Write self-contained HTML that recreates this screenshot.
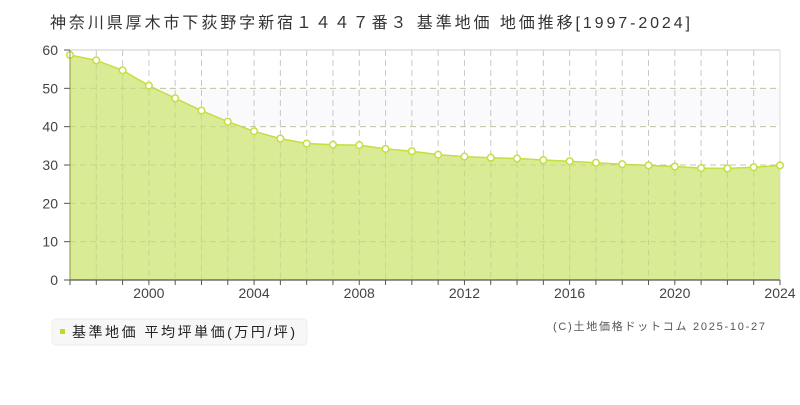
<!DOCTYPE html>
<html><head><meta charset="utf-8"><style>
body{margin:0;background:#fff;width:800px;height:400px;overflow:hidden;font-family:"Liberation Sans","Noto Sans CJK JP",sans-serif}
</style></head><body>
<svg id="s" width="800" height="400" xmlns="http://www.w3.org/2000/svg" font-family="'Liberation Sans','Noto Sans CJK JP',sans-serif">
<text x="50" y="28" font-size="16" fill="#333" textLength="640" lengthAdjust="spacing">神奈川県厚木市下荻野字新宿１４４７番３ 基準地価 地価推移[1997-2024]</text>
<rect x="70" y="88" width="710" height="38" fill="#faf9fb"/>
<line x1="70" y1="50" x2="780" y2="50" stroke="#ddd" stroke-width="1.5"/>
<line x1="780" y1="50" x2="780" y2="280" stroke="#ddd" stroke-width="1"/>
<g id="grid" stroke="#c8c8c8" stroke-dasharray="6,4" stroke-width="1"></g>
<path id="area" fill="#d6e98a" fill-opacity="0.9" stroke="none"/>
<polyline id="line" fill="none" stroke="#c4df3f" stroke-width="1.5"/>
<g id="grid2" stroke="#b8c880" stroke-opacity="0.5" stroke-dasharray="6,4" stroke-width="1"></g>
<g id="dots" fill="#fff" stroke="#c4df3f" stroke-width="1.5"></g>
<line x1="70" y1="50" x2="70" y2="280" stroke="#8a9a40" stroke-width="1"/>
<line x1="70" y1="280" x2="780" y2="280" stroke="#555" stroke-width="1.2"/>
<g id="ticks" stroke="#555"></g>
<g id="ylab" font-size="14" fill="#444" text-anchor="end"></g>
<g id="xlab" font-size="14" fill="#444" text-anchor="middle"></g>
<rect x="52" y="319" width="255" height="26" rx="4" fill="#f7f7f7" stroke="#eee"/>
<rect x="60" y="329" width="5" height="5" fill="#b9dc2b"/>
<text x="72" y="337" font-size="14" fill="#222" textLength="223" lengthAdjust="spacing">基準地価 平均坪単価(万円/坪)</text>
<text x="553" y="330" font-size="11" fill="#555" textLength="212" lengthAdjust="spacing">(C)土地価格ドットコム 2025-10-27</text>
</svg>
<script>
var v=[58.7,57.3,54.7,50.7,47.4,44.2,41.3,38.8,36.9,35.6,35.3,35.2,34.2,33.6,32.7,32.2,31.9,31.7,31.3,31.0,30.6,30.2,29.9,29.6,29.2,29.1,29.4,29.9];
var ns="http://www.w3.org/2000/svg";
function el(t,a,p){var e=document.createElementNS(ns,t);for(var k in a)e.setAttribute(k,a[k]);document.getElementById(p).appendChild(e);return e;}
var X=function(i){return 70+i*(710/27)},Y=function(x){return 280-x*230/60};
for(var i=1;i<27;i++){el('line',{x1:X(i),y1:50,x2:X(i),y2:280},'grid');}
for(var j=1;j<6;j++){el('line',{x1:70,y1:Y(j*10),x2:780,y2:Y(j*10)},'grid');el('line',{x1:70,y1:Y(j*10),x2:780,y2:Y(j*10)},'grid2');}
for(var i=1;i<27;i++){el('line',{x1:X(i),y1:Y(v[i])+4,x2:X(i),y2:280},'grid2');}
var pts=v.map(function(a,i){return X(i).toFixed(1)+','+Y(a).toFixed(1)}).join(' ');
document.getElementById('line').setAttribute('points',pts);
document.getElementById('area').setAttribute('d','M70,280 L'+pts.replace(/ /g,' L')+' L780,280 Z');
v.forEach(function(a,i){el('circle',{cx:X(i),cy:Y(a),r:3.3},'dots');el('line',{x1:X(i),y1:280,x2:X(i),y2:285},'ticks');});
for(var j=0;j<=6;j++){var t=el('text',{x:58,y:Y(j*10)+5},'ylab');t.textContent=j*10;el('line',{x1:64,y1:Y(j*10),x2:70,y2:Y(j*10)},'ticks');}
for(var y=2000;y<=2024;y+=4){var t=el('text',{x:X(y-1997),y:298},'xlab');t.textContent=y;}
</script>
</body></html>
